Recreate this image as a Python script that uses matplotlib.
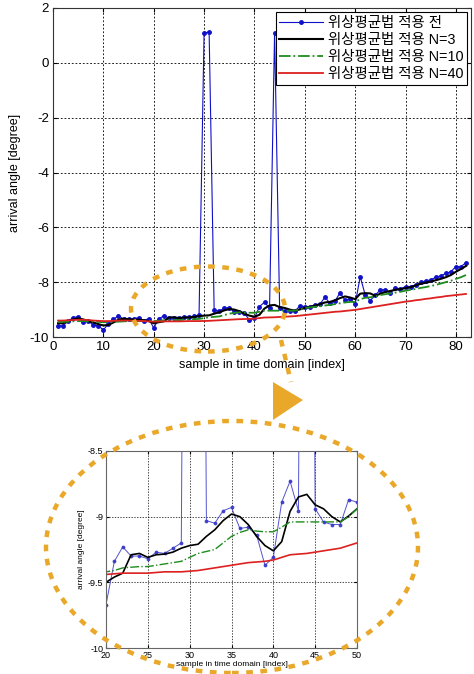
import matplotlib
matplotlib.use("Agg")
import matplotlib.pyplot as plt
import numpy as np
from matplotlib.patches import Ellipse, Polygon
from matplotlib.lines import Line2D

plt.rcParams['font.family'] = ['Liberation Sans', 'Noto Sans CJK KR', 'DejaVu Sans']
plt.rcParams['axes.unicode_minus'] = False

x = list(range(1, 83))

raw = [-9.59, -9.59, -9.42, -9.29, -9.26, -9.46, -9.42, -9.56, -9.59, -9.74,
       -9.52, -9.36, -9.22, -9.35, -9.36, -9.34, -9.29, -9.40, -9.33, -9.67,
       -9.34, -9.23, -9.30, -9.30, -9.32, -9.27, -9.28, -9.24, -9.20, 1.08,
       1.13, -9.03, -9.05, -8.955, -8.93, -9.09, -9.08, -9.14, -9.37, -9.31,
       -8.89, -8.73, -8.955, 1.1, -8.94, -9.04, -9.06, -9.06, -8.87, -8.89,
       -8.89, -8.83, -8.80, -8.55, -8.77, -8.69, -8.38, -8.66, -8.60, -8.80,
       -7.80, -8.47, -8.67, -8.47, -8.28, -8.28, -8.38, -8.22, -8.25, -8.16,
       -8.16, -8.10, -8.01, -7.95, -7.92, -7.82, -7.77, -7.68, -7.62, -7.43,
       -7.43, -7.29]

n3 = [-9.50, -9.50, -9.42, -9.36, -9.32, -9.36, -9.42, -9.47, -9.53, -9.58,
      -9.56, -9.47, -9.37, -9.33, -9.35, -9.37, -9.37, -9.39, -9.42, -9.50,
      -9.46, -9.43, -9.29, -9.28, -9.31, -9.29, -9.285, -9.27, -9.24, -9.22,
      -9.21, -9.15, -9.10, -9.03, -8.98, -9.00, -9.06, -9.15, -9.22, -9.26,
      -9.19, -8.96, -8.85, -8.83, -8.91, -8.94, -9.00, -9.04, -8.995, -8.94,
      -8.90, -8.86, -8.80, -8.74, -8.72, -8.66, -8.58, -8.52, -8.56, -8.62,
      -8.42, -8.40, -8.41, -8.50, -8.42, -8.36, -8.32, -8.28, -8.25, -8.22,
      -8.18, -8.12, -8.06, -8.02, -7.98, -7.93, -7.88, -7.82, -7.74, -7.62,
      -7.52, -7.41]

n10 = [-9.45, -9.45, -9.44, -9.43, -9.42, -9.42, -9.43, -9.44, -9.45, -9.46,
       -9.46, -9.45, -9.44, -9.43, -9.42, -9.42, -9.42, -9.42, -9.42, -9.42,
       -9.41, -9.39, -9.385, -9.38, -9.38, -9.37, -9.36, -9.35, -9.34, -9.31,
       -9.28, -9.265, -9.25, -9.20, -9.15, -9.12, -9.10, -9.11, -9.115, -9.115,
       -9.08, -9.04, -9.04, -9.04, -9.04, -9.04, -9.04, -9.04, -9.00, -8.94,
       -8.92, -8.90, -8.88, -8.85, -8.83, -8.80, -8.77, -8.74, -8.72, -8.72,
       -8.62, -8.57, -8.55, -8.52, -8.47, -8.44, -8.41, -8.38, -8.35, -8.31,
       -8.28, -8.25, -8.21, -8.18, -8.14, -8.10, -8.05, -8.00, -7.95, -7.88,
       -7.82, -7.74]

n40 = [-9.40, -9.40, -9.39, -9.38, -9.37, -9.37, -9.38, -9.40, -9.41, -9.42,
       -9.42, -9.41, -9.40, -9.40, -9.40, -9.41, -9.41, -9.42, -9.43, -9.44,
       -9.435, -9.43, -9.43, -9.43, -9.43, -9.425, -9.42, -9.42, -9.42, -9.415,
       -9.41, -9.40, -9.39, -9.38, -9.37, -9.36, -9.35, -9.345, -9.34, -9.33,
       -9.31, -9.29, -9.285, -9.28, -9.27, -9.26, -9.25, -9.24, -9.22, -9.20,
       -9.18, -9.16, -9.14, -9.12, -9.10, -9.08, -9.07, -9.05, -9.03, -9.01,
       -8.98, -8.95, -8.92, -8.89, -8.86, -8.83, -8.80, -8.77, -8.74, -8.71,
       -8.69, -8.66, -8.64, -8.61, -8.59, -8.56, -8.54, -8.51, -8.49, -8.47,
       -8.45, -8.43]

labels = ['위상평균법 적용 전', '위상평균법 적용 N=3', '위상평균법 적용 N=10', '위상평균법 적용 N=40']
main_xticks = [0, 10, 20, 30, 40, 50, 60, 70, 80]
main_yticks = [-10, -8, -6, -4, -2, 0, 2]
inset_xticks = [20, 25, 30, 35, 40, 45, 50]
inset_yticks = [-10, -9.5, -9, -8.5]

W, H = 474, 674
fig = plt.figure(figsize=(W / 100, H / 100), dpi=100)


def fx(px):
    return px / W


def fy(py):
    return 1 - py / H


BLUE = '#1010c8'
GREEN = '#1e8c1e'
RED = '#dd2020'
ORANGE = '#eaa82a'

# ---------- main axes ----------
ax = fig.add_axes([fx(53), fy(337), fx(471) - fx(53), fy(8) - fy(337)])
ax.plot(x, raw, color=BLUE, lw=0.8, marker='.', ms=5, label=labels[0])
ax.plot(x, n3, color='black', lw=1.5, label=labels[1])
ax.plot(x, n10, color=GREEN, lw=1.3, ls='-.', label=labels[2])
ax.plot(x, n40, color=RED, lw=1.3, label=labels[3])
ax.set_xlim(0, 83)
ax.set_ylim(-10, 2)
ax.set_xticks(main_xticks)
ax.set_yticks(main_yticks)
ax.grid(True, color='black', ls=(0, (2.2, 2.2)), lw=0.6)
ax.tick_params(direction='in', length=3, labelsize=9.5, top=True, right=True, pad=3)
for s in ax.spines.values():
    s.set_color('#333333')
    s.set_linewidth(0.8)
ax.set_xlabel('sample in time domain [index]', fontsize=9, labelpad=4)
ax.set_ylabel('arrival angle [degree]', fontsize=9, labelpad=6)
leg = ax.legend(loc='upper right', fontsize=10.4, handlelength=3.0, handletextpad=0.35,
                borderpad=0.25, labelspacing=0.22, fancybox=False, framealpha=1,
                borderaxespad=0.3)
leg.get_frame().set_edgecolor('black')
leg.get_frame().set_linewidth(0.8)

# ---------- inset axes ----------
ai = fig.add_axes([fx(106), fy(648), fx(357) - fx(106), fy(451) - fy(648)])
ai.plot(x, raw, color='#3535c8', lw=0.7, marker='.', ms=3.5, alpha=0.85)
ai.plot(x, n3, color='black', lw=1.2)
ai.plot(x, n10, color=GREEN, lw=1.0, ls='-.')
ai.plot(x, n40, color=RED, lw=1.2)
ai.set_xlim(20, 50)
ai.set_ylim(-10, -8.5)
ai.set_xticks(inset_xticks)
ai.set_yticks(inset_yticks)
ai.set_yticklabels(['-10', '-9.5', '-9', '-8.5'])
ai.grid(True, color='black', ls=(0, (2, 2)), lw=0.5)
ai.tick_params(direction='in', length=2, labelsize=6.5, top=True, right=True, pad=2)
for s in ai.spines.values():
    s.set_color('#666666')
    s.set_linewidth(0.8)
ai.set_xlabel('sample in time domain [index]', fontsize=6, labelpad=1)
ai.set_ylabel('arrival angle [degree]', fontsize=6, labelpad=2)

# ---------- orange annotations ----------
dash = (0, (1.5, 1.7))
big = Ellipse((fx(232), fy(547)), fx(372), 252 / H, transform=fig.transFigure,
              fill=False, ec=ORANGE, lw=3.2, ls=dash, zorder=10)
fig.patches.append(big)
small = Ellipse((fx(208), fy(309)), fx(154), 85 / H, transform=fig.transFigure,
                fill=False, ec=ORANGE, lw=3.2, ls=dash, zorder=10)
fig.patches.append(small)
fig.lines.append(Line2D([fx(281), fx(291)], [fy(340), fy(382)], transform=fig.transFigure,
                        color=ORANGE, lw=3.2, ls=dash, zorder=10))
tri = Polygon([[fx(273), fy(382)], [fx(303), fy(400)], [fx(273), fy(420)]],
              closed=True, transform=fig.transFigure, fc=ORANGE, ec='none', zorder=10)
fig.patches.append(tri)

fig.savefig('out.png', dpi=100)
